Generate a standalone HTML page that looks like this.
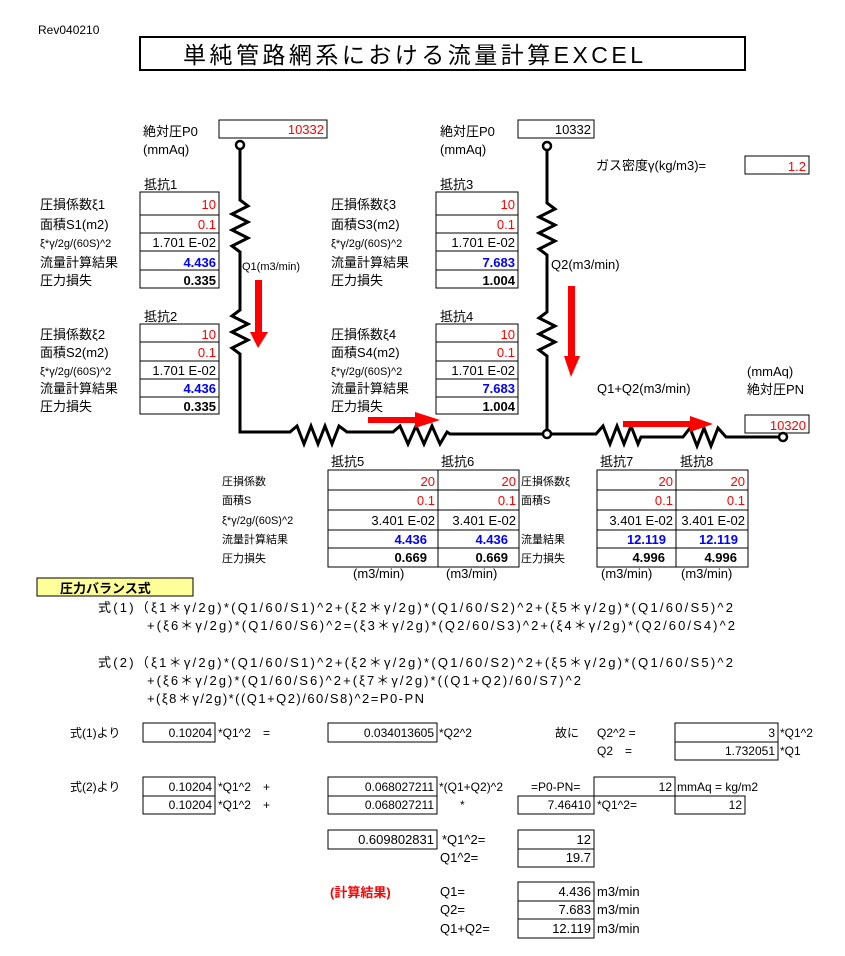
<!DOCTYPE html>
<html><head><meta charset="utf-8"><style>
html,body{margin:0;padding:0;background:#fff;}
svg{display:block;}
text{font-family:"Liberation Sans","Noto Sans CJK JP",sans-serif;font-size:13px;fill:#000;}
.r{fill:#f00;} .b{fill:#00f;font-weight:bold;} .k{font-weight:bold;}
.s{font-size:11px;} .e{text-anchor:end;}
.eq text{font-size:12px !important;}
.t{fill:none;stroke:#000;stroke-width:1;}
.p{fill:none;stroke:#000;stroke-width:3;stroke-linejoin:miter;}
</style></head><body>
<svg width="845" height="956" viewBox="0 0 845 956" xmlns="http://www.w3.org/2000/svg">
<text x="38" y="34" style="font-size:12px">Rev040210</text>
<rect x="140" y="37" width="605" height="33" class="t" style="stroke-width:2"/>
<text x="183" y="63" style="font-size:23px" textLength="460">単純管路網系における流量計算EXCEL</text>

<text x="143" y="136">絶対圧P0</text>
<text x="143" y="154">(mmAq)</text>
<rect x="219" y="120" width="108" height="18" class="t"/>
<text x="324" y="134" class="r e">10332</text>
<text x="440" y="136">絶対圧P0</text>
<text x="440" y="154">(mmAq)</text>
<rect x="518" y="120" width="76" height="18" class="t"/>
<text x="591" y="134" class="e">10332</text>
<text x="596" y="170">ガス密度γ(kg/m3)=</text>
<rect x="745" y="156" width="64" height="18" class="t"/>
<text x="806" y="171" class="r e">1.2</text>
<text x="747" y="376">(mmAq)</text>
<text x="747" y="394">絶対圧PN</text>
<rect x="745" y="415" width="64" height="18" class="t"/>
<text x="806" y="430" class="r e">10320</text>
<text x="597" y="393">Q1+Q2(m3/min)</text>
<text x="242" y="270" class="s">Q1(m3/min)</text>
<text x="551" y="269">Q2(m3/min)</text>

<polyline class="p" points="240,149 240,200 248,206 232,214 248,222 232,230 248,238 232,246 240,252 240,310 232,316 248,324 232,332 248,340 232,348 240,354 240,432 290,432 297,426 304,444 311,426 318,444 325,426 332,444 339,426 347,432 393,432 400,426 408,444 416,426 424,444 432,426 440,444 447,432 450,434 543,434"/>
<polyline class="p" points="547,149 547,203 555,209 539,217 555,225 539,233 555,241 539,249 547,255 547,312 539,318 555,326 539,334 555,342 539,350 547,356 547,429"/>
<polyline class="p" points="551,434 596,434 603,426 610,444 617,426 624,444 631,426 638,444 641,437 683,437 690,428 697,446 704,428 711,446 718,428 726,437 779,437"/>
<circle cx="240" cy="145" r="4" fill="#fff" stroke="#000" stroke-width="2.5"/>
<circle cx="547" cy="146" r="4" fill="#fff" stroke="#000" stroke-width="2.5"/>
<circle cx="547" cy="434" r="4" fill="#fff" stroke="#000" stroke-width="2.5"/>
<circle cx="783" cy="437" r="4" fill="#fff" stroke="#000" stroke-width="2.5"/>

<polygon fill="#f00" points="255,280 262,280 262,332 268,332 258,348 250,332 255,332"/>
<polygon fill="#f00" points="568,286 575,286 575,356 580,356 571,377 564,356 568,356"/>
<polygon fill="#f00" points="368,417 415,417 415,412 440,420 415,428 415,423 368,423"/>
<polygon fill="#f00" points="623,421 690,421 690,416 713,424 690,432 690,427 623,427"/>

<text x="144" y="189">抵抗1</text>
<rect x="140" y="192" width="79" height="96" class="t"/>
<path class="t" d="M140 215H219M140 233H219M140 251H219M140 270H219"/>
<text x="216" y="209" class="r e">10</text><text x="216" y="229" class="r e">0.1</text>
<text x="216" y="247" class="e">1.701 E-02</text><text x="216" y="267" class="b e">4.436</text><text x="216" y="285" class="k e">0.335</text>
<text x="40" y="209">圧損係数ξ1</text><text x="40" y="229">面積S1(m2)</text><text x="40" y="247" class="s">ξ*γ/2g/(60S)^2</text><text x="40" y="267">流量計算結果</text><text x="40" y="285">圧力損失</text>
<text x="144" y="321">抵抗2</text>
<rect x="140" y="324" width="79" height="90" class="t"/>
<path class="t" d="M140 342H219M140 361H219M140 379H219M140 397H219"/>
<text x="216" y="339" class="r e">10</text><text x="216" y="357" class="r e">0.1</text>
<text x="216" y="375" class="e">1.701 E-02</text><text x="216" y="393" class="b e">4.436</text><text x="216" y="411" class="k e">0.335</text>
<text x="40" y="339">圧損係数ξ2</text><text x="40" y="357">面積S2(m2)</text><text x="40" y="375" class="s">ξ*γ/2g/(60S)^2</text><text x="40" y="393">流量計算結果</text><text x="40" y="411">圧力損失</text>
<text x="440" y="189">抵抗3</text>
<rect x="436" y="192" width="82" height="96" class="t"/>
<path class="t" d="M436 215H518M436 233H518M436 251H518M436 270H518"/>
<text x="515" y="209" class="r e">10</text><text x="515" y="229" class="r e">0.1</text>
<text x="515" y="247" class="e">1.701 E-02</text><text x="515" y="267" class="b e">7.683</text><text x="515" y="285" class="k e">1.004</text>
<text x="331" y="209">圧損係数ξ3</text><text x="331" y="229">面積S3(m2)</text><text x="331" y="247" class="s">ξ*γ/2g/(60S)^2</text><text x="331" y="267">流量計算結果</text><text x="331" y="285">圧力損失</text>
<text x="440" y="321">抵抗4</text>
<rect x="436" y="324" width="82" height="90" class="t"/>
<path class="t" d="M436 342H518M436 361H518M436 379H518M436 397H518"/>
<text x="515" y="339" class="r e">10</text><text x="515" y="357" class="r e">0.1</text>
<text x="515" y="375" class="e">1.701 E-02</text><text x="515" y="393" class="b e">7.683</text><text x="515" y="411" class="k e">1.004</text>
<text x="331" y="339">圧損係数ξ4</text><text x="331" y="357">面積S4(m2)</text><text x="331" y="375" class="s">ξ*γ/2g/(60S)^2</text><text x="331" y="393">流量計算結果</text><text x="331" y="411">圧力損失</text>

<text x="331" y="466">抵抗5</text><text x="441" y="466">抵抗6</text><text x="600" y="466">抵抗7</text><text x="680" y="466">抵抗8</text>
<rect x="328" y="470" width="191" height="97" class="t"/>
<path class="t" d="M328 490H519M328 510H519M328 530H519M328 548H519M438 470V567"/>
<rect x="597" y="470" width="151" height="97" class="t"/>
<path class="t" d="M597 490H748M597 510H748M597 530H748M597 548H748M676 470V567"/>
<text x="222" y="485" class="s">圧損係数</text><text x="222" y="504" class="s">面積S</text><text x="222" y="524" class="s">ξ*γ/2g/(60S)^2</text><text x="222" y="543" class="s">流量計算結果</text><text x="222" y="562" class="s">圧力損失</text>
<text x="521" y="485" class="s">圧損係数ξ</text><text x="521" y="504" class="s">面積S</text><text x="521" y="543" class="s">流量結果</text><text x="521" y="562" class="s">圧力損失</text>
<text x="435" y="486" class="r e">20</text><text x="516" y="486" class="r e">20</text><text x="673" y="486" class="r e">20</text><text x="745" y="486" class="r e">20</text>
<text x="435" y="505" class="r e">0.1</text><text x="516" y="505" class="r e">0.1</text><text x="673" y="505" class="r e">0.1</text><text x="745" y="505" class="r e">0.1</text>
<text x="435" y="525" class="e">3.401 E-02</text><text x="516" y="525" class="e">3.401 E-02</text><text x="673" y="525" class="e">3.401 E-02</text><text x="745" y="525" class="e">3.401 E-02</text>
<text x="427" y="544" class="b e">4.436</text><text x="508" y="544" class="b e">4.436</text><text x="666" y="544" class="b e">12.119</text><text x="738" y="544" class="b e">12.119</text>
<text x="427" y="562" class="k e">0.669</text><text x="508" y="562" class="k e">0.669</text><text x="665" y="562" class="k e">4.996</text><text x="737" y="562" class="k e">4.996</text>
<text x="353" y="578">(m3/min)</text><text x="446" y="578">(m3/min)</text><text x="601" y="578">(m3/min)</text><text x="681" y="578">(m3/min)</text>

<rect x="37" y="578" width="156" height="18" fill="#ffff99" stroke="#000"/>
<text x="60" y="593" class="k">圧力バランス式</text>
<text x="98" y="612" textLength="635">式(1)（ξ1＊γ/2g)*(Q1/60/S1)^2+(ξ2＊γ/2g)*(Q1/60/S2)^2+(ξ5＊γ/2g)*(Q1/60/S5)^2</text>
<text x="147" y="630" textLength="588">+(ξ6＊γ/2g)*(Q1/60/S6)^2=(ξ3＊γ/2g)*(Q2/60/S3)^2+(ξ4＊γ/2g)*(Q2/60/S4)^2</text>
<text x="98" y="667" textLength="635">式(2)（ξ1＊γ/2g)*(Q1/60/S1)^2+(ξ2＊γ/2g)*(Q1/60/S2)^2+(ξ5＊γ/2g)*(Q1/60/S5)^2</text>
<text x="147" y="685" textLength="434">+(ξ6＊γ/2g)*(Q1/60/S6)^2+(ξ7＊γ/2g)*((Q1+Q2)/60/S7)^2</text>
<text x="147" y="703" textLength="277">+(ξ8＊γ/2g)*((Q1+Q2)/60/S8)^2=P0-PN</text>

<g class="eq">
<text x="70" y="737">式(1)より</text>
<rect x="143" y="723" width="72" height="19" class="t"/><text x="212" y="737" class="e">0.10204</text>
<text x="218" y="737">*Q1^2　=</text>
<rect x="328" y="723" width="109" height="19" class="t"/><text x="434" y="737" class="e">0.034013605</text>
<text x="439" y="737">*Q2^2</text>
<text x="555" y="737">故に</text><text x="597" y="737">Q2^2 =</text>
<rect x="675" y="723" width="103" height="19" class="t"/><text x="775" y="737" class="e">3</text><text x="780" y="737">*Q1^2</text>
<text x="597" y="755">Q2　=</text>
<rect x="675" y="742" width="103" height="18" class="t"/><text x="775" y="755" class="e">1.732051</text><text x="780" y="755">*Q1</text>

<text x="70" y="791">式(2)より</text>
<rect x="143" y="777" width="72" height="19" class="t"/><text x="212" y="791" class="e">0.10204</text>
<text x="218" y="791">*Q1^2　+</text>
<rect x="328" y="777" width="109" height="19" class="t"/><text x="434" y="791" class="e">0.068027211</text>
<text x="439" y="791">*(Q1+Q2)^2</text>
<text x="531" y="791">=P0-PN=</text>
<rect x="594" y="777" width="81" height="19" class="t"/><text x="672" y="791" class="e">12</text>
<text x="677" y="791">mmAq = kg/m2</text>
<rect x="143" y="796" width="72" height="18" class="t"/><text x="212" y="809" class="e">0.10204</text>
<text x="218" y="809">*Q1^2　+</text>
<rect x="328" y="796" width="109" height="18" class="t"/><text x="434" y="809" class="e">0.068027211</text>
<text x="460" y="809">*</text>
<rect x="518" y="796" width="76" height="18" class="t"/><text x="591" y="809" class="e">7.46410</text>
<text x="597" y="809">*Q1^2=</text>
<rect x="675" y="796" width="70" height="18" class="t"/><text x="742" y="809" class="e">12</text>
</g>

<rect x="328" y="830" width="109" height="19" class="t"/><text x="434" y="844" class="e">0.609802831</text>
<text x="442" y="844">*Q1^2=</text>
<rect x="518" y="830" width="76" height="19" class="t"/><text x="591" y="844" class="e">12</text>
<text x="440" y="862">Q1^2=</text>
<rect x="518" y="849" width="76" height="18" class="t"/><text x="591" y="862" class="e">19.7</text>

<text x="330" y="897" class="k" style="fill:#f00">(計算結果)</text>
<text x="440" y="896">Q1=</text><rect x="518" y="882" width="76" height="19" class="t"/><text x="591" y="896" class="e">4.436</text><text x="597" y="896">m3/min</text>
<text x="440" y="914">Q2=</text><rect x="518" y="901" width="76" height="18" class="t"/><text x="591" y="914" class="e">7.683</text><text x="597" y="914">m3/min</text>
<text x="440" y="933">Q1+Q2=</text><rect x="518" y="919" width="76" height="19" class="t"/><text x="591" y="933" class="e">12.119</text><text x="597" y="933">m3/min</text>
</svg>
</body></html>
